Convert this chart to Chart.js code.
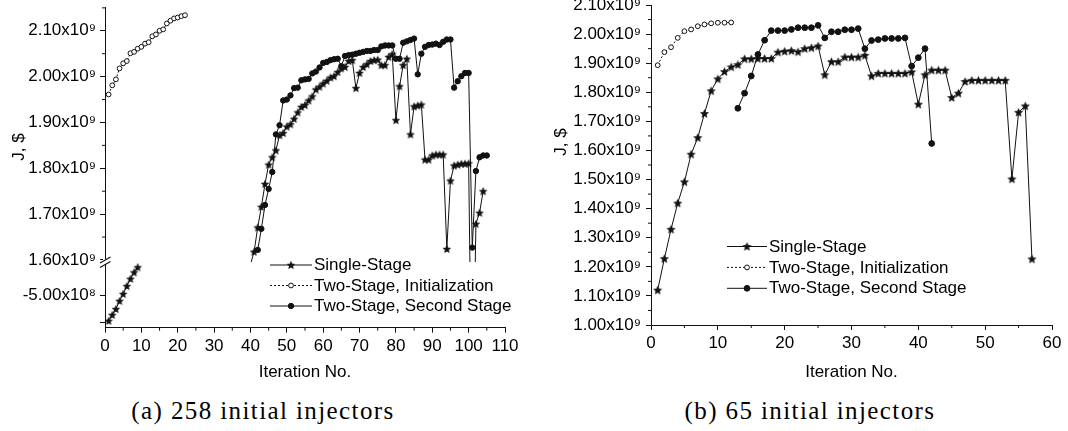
<!DOCTYPE html>
<html>
<head>
<meta charset="utf-8">
<script src="https://cdn.jsdelivr.net/npm/chart.js@4.4.1/dist/chart.umd.min.js"></script>
<style>
  html, body { margin: 0; padding: 0; background: #fff; }
  body { width: 1068px; height: 431px; overflow: hidden; position: relative; }
  #wa { position: absolute; left: 0; top: 0; width: 530px; height: 395px; }
  #wb { position: absolute; left: 540px; top: 0; width: 528px; height: 395px; }
  .cap { position: absolute; top: 396px; width: 420px; text-align: center; line-height: 30px;
         font-family: "Liberation Serif", "DejaVu Serif", serif; font-size: 25px; color: #000;
         letter-spacing: 1.4px; white-space: nowrap; }
  #capA { left: 53px; }
  #capB { left: 600px; }
</style>
</head>
<body>
<div id="wa"><canvas id="ca" width="530" height="395"></canvas></div>
<div id="wb"><canvas id="cb" width="528" height="395"></canvas></div>
<div class="cap" id="capA">(a) 258 initial injectors</div>
<div class="cap" id="capB">(b) 65 initial injectors</div>

<script>
// Objective J in units of 10^9 $, indexed by iteration number.

// ---- (a) 258 initial injectors ----
const aInitStart = 1;
const aInitJ = [1.961, 1.981, 1.994, 2.018, 2.029, 2.034, 2.051, 2.054, 2.061, 2.065, 2.072,
                2.075, 2.088, 2.092, 2.100, 2.103, 2.116, 2.122, 2.127, 2.129, 2.132, 2.134];

// single-stage run, early iterations (lower part of the broken axis)
const aSingleLowStart = 1;
const aSingleLowJ = [-0.592, -0.571, -0.550, -0.521, -0.496, -0.468, -0.442, -0.419, -0.401];

// single-stage run, later iterations (upper part); 40 and 101 lie in the omitted range
const aSingleStart = 40;
const aSingleJ = [1.590, 1.618, 1.671, 1.716, 1.766, 1.808, 1.824, 1.839, 1.872, 1.877,
                  1.891, 1.896, 1.908, 1.922, 1.934, 1.938, 1.948, 1.957, 1.972, 1.978,
                  1.985, 1.991, 1.998, 2.001, 2.010, 2.018, 2.021, 2.034, 2.036, 1.975,
                  2.008, 2.021, 2.027, 2.034, 2.036, 2.037, 2.025, 2.025, 2.043, 2.049,
                  1.905, 1.979, 2.025, 2.039, 1.874, 1.935, 1.937, 1.939, 1.819, 1.819,
                  1.828, 1.830, 1.830, 1.830, 1.624, 1.773, 1.806, 1.808, 1.810, 1.810,
                  1.811, 1.200, 1.679, 1.703, 1.750];
const aSingleOffAxis = [40, 101];

const aSecondStart = 42;
const aSecondJ = [1.622, 1.668, 1.720, 1.755, 1.792, 1.874, 1.894, 1.948, 1.950, 1.959,
                  1.975, 1.976, 1.992, 1.994, 1.995, 2.007, 2.011, 2.020, 2.030, 2.032,
                  2.036, 2.038, 2.039, 2.023, 2.045, 2.047, 2.048, 2.050, 2.052, 2.054,
                  2.056, 2.056, 2.058, 2.058, 2.066, 2.068, 2.068, 2.068, 2.039, 2.039,
                  2.074, 2.077, 2.080, 2.083, 2.005, 2.050, 2.065, 2.069, 2.070, 2.072,
                  2.069, 2.076, 2.081, 2.081, 1.976, 1.990, 2.001, 2.008, 2.008, 1.627,
                  1.794, 1.824, 1.828, 1.828];

const aXTicks = [0, 10, 20, 30, 40, 50, 60, 70, 80, 90, 100, 110];
const aXMinor = [5, 15, 25, 35, 45, 55, 65, 75, 85, 95, 105];
const aUpperTicks = [1.6, 1.7, 1.8, 1.9, 2.0, 2.1];
const aUpperMinor = [1.65, 1.75, 1.85, 1.95, 2.05, 2.15];
const aLowerTicks = [-0.6, -0.5];
const aLowerLabelled = [-0.5];

// ---- (b) 65 initial injectors ----
const bInitStart = 1;
const bInitJ = [1.893, 1.938, 1.955, 1.987, 2.010, 2.016, 2.027, 2.033, 2.037, 2.039, 2.039, 2.040];

const bSingleStart = 1;
const bSingleJ = [1.120, 1.228, 1.329, 1.419, 1.492, 1.587, 1.644, 1.727, 1.805, 1.846,
                  1.871, 1.887, 1.895, 1.915, 1.915, 1.916, 1.916, 1.916, 1.938, 1.941,
                  1.943, 1.939, 1.950, 1.953, 1.959, 1.860, 1.905, 1.905, 1.921, 1.921,
                  1.921, 1.927, 1.856, 1.865, 1.865, 1.865, 1.865, 1.865, 1.870, 1.759,
                  1.860, 1.876, 1.876, 1.876, 1.782, 1.797, 1.837, 1.841, 1.841, 1.841,
                  1.841, 1.841, 1.841, 1.502, 1.731, 1.753, 1.227];

const bSecondStart = 13;
const bSecondJ = [1.745, 1.797, 1.856, 1.930, 1.979, 2.012, 2.012, 2.012, 2.016, 2.022,
                  2.022, 2.022, 2.030, 1.987, 2.008, 2.008, 2.015, 2.015, 2.019, 1.950,
                  1.978, 1.981, 1.985, 1.985, 1.985, 1.987, 1.890, 1.919, 1.950, 1.624];

const bXTicks = [0, 10, 20, 30, 40, 50, 60];
const bXMinor = [5, 15, 25, 35, 45, 55];
const bYTicks = [1.0, 1.1, 1.2, 1.3, 1.4, 1.5, 1.6, 1.7, 1.8, 1.9, 2.0, 2.1];
const bYMinor = [1.05, 1.15, 1.25, 1.35, 1.45, 1.55, 1.65, 1.75, 1.85, 1.95, 2.05];

// ---------------------------------------------------------------
const INK = '#111';
const SANS = '"Liberation Sans", Arial, sans-serif';
const FS = 17;

function pts(start, arr) {
  return arr.map((v, k) => ({ x: start + k, y: v }));
}

// filled five-pointed star used as a point marker
function makeStar(r) {
  const s = Math.ceil(r * 2 + 2);
  const c = document.createElement('canvas');
  c.width = s; c.height = s;
  const g = c.getContext('2d');
  g.translate(s / 2, s / 2 + 0.4);
  g.beginPath();
  for (let k = 0; k < 10; k++) {
    const rad = k % 2 === 0 ? r : r * 0.45;
    const a = -Math.PI / 2 + k * Math.PI / 5;
    g.lineTo(rad * Math.cos(a), rad * Math.sin(a));
  }
  g.closePath();
  g.fillStyle = INK;
  g.fill();
  g.strokeStyle = INK;
  g.lineWidth = 0.6;
  g.stroke();
  return c;
}

const sup9 = '\u2079';
const sup8 = '\u2078';
const fmt9 = v => v.toFixed(2) + 'x10' + sup9;
const fmt8 = v => (v * 10).toFixed(2) + 'x10' + sup8;

function fixedTicks(list) {
  return scale => { scale.ticks = list.map(v => ({ value: v })); };
}

const tickFont = { family: SANS, size: FS };
const gridOpts = { display: true, drawOnChartArea: false, drawTicks: true, tickLength: 5, color: INK, tickColor: INK };
const borderOpts = { display: true, color: INK, width: 1 };

// short outward minor ticks, axis title and broken-axis marks
const axisExtras = {
  id: 'axisExtras',
  afterDraw(chart, args, opts) {
    const { ctx, chartArea } = chart;
    ctx.save();
    ctx.strokeStyle = INK;
    ctx.lineWidth = 1;
    (opts.minor || []).forEach(m => {
      const sc = chart.scales[m.axis];
      m.values.forEach(v => {
        const p = sc.getPixelForValue(v);
        ctx.beginPath();
        if (sc.isHorizontal()) {
          ctx.moveTo(p, sc.top); ctx.lineTo(p, sc.top + 3);
        } else {
          ctx.moveTo(sc.right, p); ctx.lineTo(sc.right - 3, p);
        }
        ctx.stroke();
      });
    });
    if (opts.breakAxis) {
      const up = chart.scales[opts.breakAxis];
      const b = up.bottom;
      const x = chartArea.left;
      ctx.fillStyle = '#fff';
      ctx.fillRect(x - 2, b - 3, 4, 5);
      ctx.strokeStyle = INK;
      ctx.lineWidth = 1.2;
      ctx.beginPath();
      ctx.moveTo(x - 5, b + 1); ctx.lineTo(x + 5.5, b - 5);
      ctx.moveTo(x - 5, b + 5.5); ctx.lineTo(x + 5.5, b - 0.5);
      ctx.stroke();
    }
    if (opts.yTitle) {
      ctx.fillStyle = '#000';
      ctx.font = FS + 'px ' + SANS;
      ctx.textAlign = 'center';
      ctx.textBaseline = 'middle';
      ctx.translate(opts.yTitle.x, opts.yTitle.y);
      ctx.rotate(-Math.PI / 2);
      ctx.fillText(opts.yTitle.text, 0, 0);
    }
    ctx.restore();
  }
};

// legend rows: a line segment with the series marker in the middle, then the label
const lineLegend = {
  id: 'lineLegend',
  afterDraw(chart, args, opts) {
    const { ctx, chartArea } = chart;
    const x0 = chartArea.left + opts.dx;
    ctx.save();
    opts.order.forEach((di, k) => {
      const ds = chart.data.datasets[di];
      const y = opts.top + k * opts.gap;
      ctx.strokeStyle = INK;
      ctx.lineWidth = 1;
      ctx.setLineDash(ds.borderDash || []);
      ctx.beginPath();
      ctx.moveTo(x0, y); ctx.lineTo(x0 + opts.len, y);
      ctx.stroke();
      ctx.setLineDash([]);
      ctx.fillStyle = ds.pointBackgroundColor || INK;
      ctx.strokeStyle = INK;
      Chart.helpers.drawPoint(ctx, {
        pointStyle: ds.pointStyle,
        radius: typeof ds.pointRadius === 'number' ? ds.pointRadius : 3,
        borderWidth: 1,
        rotation: 0
      }, x0 + opts.len / 2, y);
      ctx.fillStyle = '#000';
      ctx.font = FS + 'px ' + SANS;
      ctx.textAlign = 'left';
      ctx.textBaseline = 'middle';
      ctx.fillText(ds.label, x0 + opts.len + 2, y + 0.5);
    });
    ctx.restore();
  }
};

const lineBase = { borderColor: INK, borderWidth: 1, fill: false, tension: 0, pointBorderColor: INK, pointBorderWidth: 1 };
const clipUpper = { left: 6, top: 6, right: 6, bottom: 0 };
const titleOpts = { display: true, text: 'Iteration No.', font: { family: SANS, size: FS }, color: '#000', padding: { top: 0, bottom: 12 } };

// ---- chart (a) ----
const starA = makeStar(3.9);
new Chart(document.getElementById('ca'), {
  type: 'line',
  data: {
    datasets: [
      Object.assign({}, lineBase, {
        label: 'Two-Stage, Initialization', data: pts(aInitStart, aInitJ), yAxisID: 'yUp',
        borderDash: [2, 2], pointStyle: 'circle', pointRadius: 2.4, pointBackgroundColor: '#fff', clip: clipUpper
      }),
      Object.assign({}, lineBase, {
        label: 'Two-Stage, Second Stage', data: pts(aSecondStart, aSecondJ), yAxisID: 'yUp',
        pointStyle: 'circle', pointRadius: 2.7, pointBackgroundColor: INK, clip: clipUpper
      }),
      Object.assign({}, lineBase, {
        label: 'Single-Stage', data: pts(aSingleStart, aSingleJ), yAxisID: 'yUp',
        pointStyle: starA, pointBackgroundColor: INK, clip: clipUpper,
        pointRadius: c => (c.raw && aSingleOffAxis.includes(c.raw.x)) ? 0 : 3
      }),
      Object.assign({}, lineBase, {
        label: 'Single-Stage', data: pts(aSingleLowStart, aSingleLowJ), yAxisID: 'yLow',
        pointStyle: starA, pointRadius: 3, pointBackgroundColor: INK
      })
    ]
  },
  options: {
    responsive: false, animation: false, devicePixelRatio: 1,
    layout: { padding: { top: 7, right: 25, left: 0, bottom: 0 } },
    plugins: {
      legend: { display: false }, tooltip: { enabled: false },
      lineLegend: { dx: 165, top: 265, gap: 20.5, len: 42, order: [2, 0, 1] },
      axisExtras: {
        minor: [{ axis: 'x', values: aXMinor }, { axis: 'yUp', values: aUpperMinor }],
        breakAxis: 'yUp',
        yTitle: { text: 'J, $', x: 19, y: 147 }
      }
    },
    scales: {
      x: {
        type: 'linear', position: 'bottom', min: 0, max: 110,
        afterBuildTicks: fixedTicks(aXTicks),
        afterFit: s => { s.height = 67.3; s.paddingLeft = 0; s.paddingRight = 0; },
        ticks: { font: tickFont, color: '#000', padding: 3, maxRotation: 0, autoSkip: false },
        grid: gridOpts, border: borderOpts, title: titleOpts
      },
      yLow: {
        type: 'linear', position: 'left', stack: 'j', stackWeight: 65.7, weight: 1,
        min: -0.6168, max: -0.3821,
        afterBuildTicks: fixedTicks(aLowerTicks),
        afterFit: s => { s.width = 105; s.paddingTop = 0; s.paddingBottom = 0; },
        ticks: { font: tickFont, color: '#000', padding: 4, autoSkip: false,
                 callback: v => aLowerLabelled.includes(v) ? fmt8(v) : '' },
        grid: gridOpts, border: borderOpts
      },
      yUp: {
        type: 'linear', position: 'left', stack: 'j', stackWeight: 255, weight: 2,
        min: 1.5956, max: 2.1519,
        afterBuildTicks: fixedTicks(aUpperTicks),
        afterFit: s => { s.width = 105; s.paddingTop = 0; s.paddingBottom = 0; },
        ticks: { font: tickFont, color: '#000', padding: 4, autoSkip: false, callback: v => fmt9(v) },
        grid: gridOpts, border: borderOpts
      }
    }
  },
  plugins: [axisExtras, lineLegend]
});

// ---- chart (b) ----
const starB = makeStar(4.2);
new Chart(document.getElementById('cb'), {
  type: 'line',
  data: {
    datasets: [
      Object.assign({}, lineBase, {
        label: 'Two-Stage, Initialization', data: pts(bInitStart, bInitJ),
        borderDash: [2, 2], pointStyle: 'circle', pointRadius: 2.4, pointBackgroundColor: '#fff'
      }),
      Object.assign({}, lineBase, {
        label: 'Two-Stage, Second Stage', data: pts(bSecondStart, bSecondJ),
        pointStyle: 'circle', pointRadius: 2.9, pointBackgroundColor: INK
      }),
      Object.assign({}, lineBase, {
        label: 'Single-Stage', data: pts(bSingleStart, bSingleJ),
        pointStyle: starB, pointRadius: 3, pointBackgroundColor: INK
      })
    ]
  },
  options: {
    responsive: false, animation: false, devicePixelRatio: 1,
    layout: { padding: { top: 4, right: 16, left: 0, bottom: 0 } },
    plugins: {
      legend: { display: false }, tooltip: { enabled: false },
      lineLegend: { dx: 76, top: 246.5, gap: 20.9, len: 40, order: [2, 0, 1] },
      axisExtras: {
        minor: [{ axis: 'x', values: bXMinor }, { axis: 'y', values: bYMinor }],
        yTitle: { text: 'J, $', x: 21.5, y: 142 }
      }
    },
    scales: {
      x: {
        type: 'linear', position: 'bottom', min: 0, max: 60,
        afterBuildTicks: fixedTicks(bXTicks),
        afterFit: s => { s.height = 70; s.paddingLeft = 0; s.paddingRight = 0; },
        ticks: { font: tickFont, color: '#000', padding: 3, maxRotation: 0, autoSkip: false },
        grid: gridOpts, border: borderOpts, title: titleOpts
      },
      y: {
        type: 'linear', position: 'left', min: 1.0, max: 2.1,
        afterBuildTicks: fixedTicks(bYTicks),
        afterFit: s => { s.width = 111; s.paddingTop = 0; s.paddingBottom = 0; },
        ticks: { font: tickFont, color: '#000', padding: 5, autoSkip: false, callback: v => fmt9(v) },
        grid: gridOpts, border: borderOpts
      }
    }
  },
  plugins: [axisExtras, lineLegend]
});
</script>
</body>
</html>
